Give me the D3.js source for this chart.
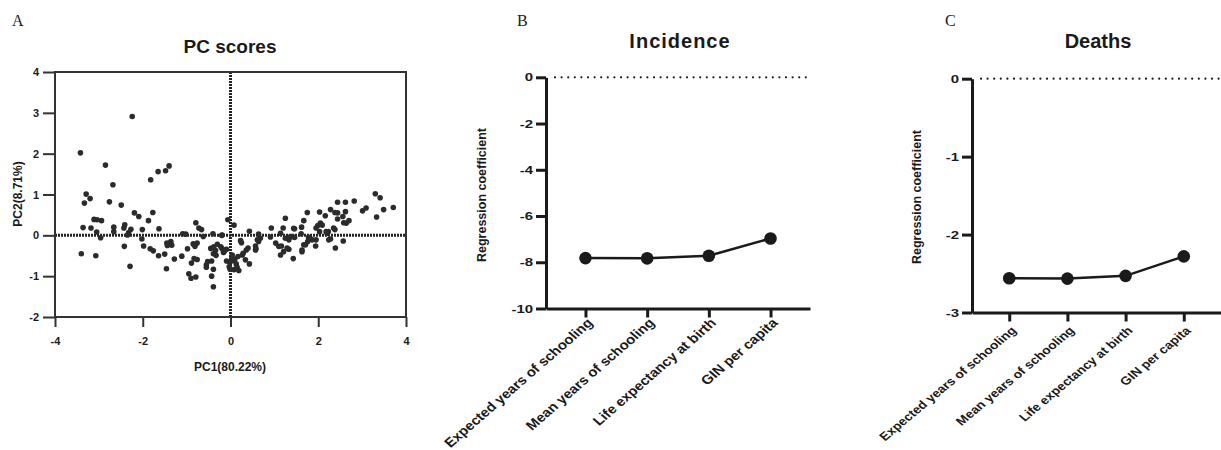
<!DOCTYPE html>
<html>
<head>
<meta charset="utf-8">
<script src="https://cdn.jsdelivr.net/npm/d3@7"></script>
<style>
  body { margin: 0; background: #fff; }
  svg text { font-family: "Liberation Sans", Arial, sans-serif; fill: #1a1a1a; }
  .panel-label { font-family: "Liberation Serif", "DejaVu Serif", serif !important; font-size: 16px; font-weight: normal; }
</style>
</head>
<body>
<svg id="chart" width="1221" height="450"></svg>
<script>
// ----- data -----
// panel A: PC scores, [PC1, PC2]
const pcScores = [
  [-2.24,2.91],[-3.42,2.02],[-2.85,1.72],[-2.68,1.24],[-1.82,1.36],[-1.65,1.56],[-1.48,1.58],[-1.40,1.70],
  [-3.29,1.01],[-3.33,0.79],[-3.20,0.90],[-2.76,0.82],[-2.49,0.74],[-2.19,0.55],[-2.09,0.46],[-1.77,0.56],[-1.87,0.36],
  [-3.11,0.39],[-3.04,0.38],[-2.94,0.36],[-3.36,0.19],[-3.18,0.18],[-3.05,0.08],[-2.96,-0.06],[-2.66,0.20],[-2.66,0.09],
  [-2.41,0.26],[-2.43,0.18],[-2.27,0.15],[-2.32,0.07],[-2.35,0.01],[-2.01,0.14],[-2.02,-0.09],[-1.63,0.16],
  [-3.40,-0.45],[-3.07,-0.50],[-2.42,-0.27],[-1.98,-0.26],[-1.83,-0.33],[-1.76,-0.38],[-1.64,-0.50],[-1.50,-0.46],
  [-1.45,-0.19],[-1.36,-0.15],[-1.44,-0.25],[-1.34,-0.24],[-2.29,-0.76],[-1.46,-0.82],[-1.28,-0.58],
  [-1.11,-0.51],[-0.98,-0.33],[-0.95,-0.94],[-0.90,-1.05],[-0.79,-1.02],[-0.89,-0.68],[-0.83,-0.57],[-0.76,-0.59],
  [-0.85,-0.21],[-0.81,-0.27],[-0.76,-0.19],[-0.79,0.31],[-0.72,0.18],[-0.66,0.14],[-1.09,0.04],[-1.02,0.03],[-0.62,-0.03],
  [-0.55,-0.72],[-0.55,-0.78],[-0.52,-0.64],[-0.43,-0.63],[-0.39,-0.83],[-0.43,-1.00],[-0.39,-1.26],
  [-0.45,-0.32],[-0.38,-0.28],[-0.34,-0.37],[-0.39,-0.45],[-0.33,-0.49],[-0.30,-0.22],[-0.22,-0.28],[-0.19,-0.33],
  [-0.13,-0.37],[-0.16,-0.42],[-0.40,0.04],[-0.20,0.00],[-0.09,-0.63],[-0.03,-0.77],[-0.01,-0.83],[-0.06,0.38],[0.08,0.25],
  [-0.19,0.01],[-0.09,-0.34],[-0.15,-0.40],[0.03,-0.57],[0.17,-0.52],[0.08,-0.84],[-0.02,-0.66],
  [0.10,-0.58],[0.13,-0.70],[0.19,-0.86],[0.15,-0.78],[0.04,-0.48],[0.05,-0.62],
  [0.25,-0.18],[0.23,-0.13],[0.29,-0.44],[0.36,-0.36],[0.40,-0.31],[0.43,-0.70],[0.43,0.10],[0.27,-0.48],[0.34,-0.60],
  [0.57,-0.26],[0.58,-0.33],[0.64,0.03],[0.68,-0.07],[0.64,-0.15],[0.61,-0.11],[0.57,-0.36],
  [0.93,0.18],[0.91,-0.04],[1.03,-0.19],[1.10,-0.27],[1.21,-0.40],[1.33,-0.34],
  [1.16,-0.26],[1.14,-0.48],[1.29,-0.31],[1.14,0.05],[1.25,0.42],[1.25,-0.07],[1.20,0.18],
  [1.44,0.17],[1.35,-0.04],[1.40,-0.03],[1.33,-0.11],[1.62,0.20],[1.61,0.04],[1.67,0.36],[1.75,0.56],[2.03,0.57],[2.16,0.48],
  [1.95,0.18],[1.99,0.24],[2.05,0.30],[2.09,0.25],[2.03,0.09],[1.95,-0.11],[1.82,-0.08],[1.94,-0.26],
  [1.76,-0.15],[1.63,-0.36],[1.67,-0.23],[1.78,-0.05],[1.43,-0.57],[1.71,-0.23],[1.63,-0.40],
  [2.28,0.63],[2.38,0.56],[2.44,0.55],[2.44,0.81],[2.62,0.81],[2.82,0.84],[2.62,0.58],[2.56,0.46],[2.44,0.40],
  [2.58,0.31],[2.64,0.30],[2.70,0.36],[2.35,0.18],[2.38,0.14],[2.23,0.09],[2.28,-0.09],[2.57,-0.14],[2.39,-0.31],
  [3.01,0.60],[3.09,0.67],[3.30,1.02],[3.41,0.92],[3.33,0.45],[3.49,0.63],[3.71,0.68],
  [1.46,0.16],[1.46,-0.05],[2.18,0.09],[2.20,0.05],[1.86,-0.11],[2.24,-0.11]
];
const pcXTicks = [-4, -2, 0, 2, 4];
const pcYTicks = [-2, -1, 0, 1, 2, 3, 4];

// panels B and C: regression coefficients per indicator
const indicators = ["Expected years of schooling", "Mean years of schooling", "Life expectancy at birth", "GIN per capita"];
const incidenceCoef = [-7.82, -7.83, -7.72, -6.97];
const deathsCoef = [-2.56, -2.565, -2.53, -2.28];
const incidenceTicks = [0, -2, -4, -6, -8, -10];
const deathsTicks = [0, -1, -2, -3];

const svg = d3.select('#chart');
const ink = '#1a1a1a';
const plain = d => String(d);   // hyphen minus, like the original

// ----- panel A: PC scores -----
const xA = d3.scaleLinear().domain([-4, 4]).range([55, 406]);
const yA = d3.scaleLinear().domain([-2, 4]).range([317, 72]);
const gA = svg.append('g');

gA.append('text').attr('class', 'panel-label').attr('x', 12).attr('y', 26).text('A');
gA.append('text').attr('x', 230).attr('y', 53).attr('text-anchor', 'middle')
  .style('font-size', '19px').style('font-weight', 'bold').text('PC scores');

const axA = gA.append('g').attr('transform', 'translate(55,0)')
  .call(d3.axisLeft(yA).tickValues(pcYTicks).tickSize(12).tickPadding(4).tickFormat(plain));
const axAx = gA.append('g').attr('transform', 'translate(0,317)')
  .call(d3.axisBottom(xA).tickValues(pcXTicks).tickSize(10).tickPadding(10).tickFormat(plain));
[axA, axAx].forEach(ax => {
  ax.select('.domain').remove();
  ax.selectAll('line').attr('stroke', '#333').attr('stroke-width', 2);
  ax.selectAll('text').style('font-size', '11px').style('font-weight', 'bold').attr('fill', ink);
});

// zero reference lines, dense dotted
gA.append('line').attr('x1', xA(-4)).attr('x2', xA(4)).attr('y1', yA(0)).attr('y2', yA(0))
  .attr('stroke', '#222').attr('stroke-width', 3).attr('stroke-dasharray', '2,1');
gA.append('line').attr('x1', xA(0)).attr('x2', xA(0)).attr('y1', yA(4)).attr('y2', yA(-2))
  .attr('stroke', '#222').attr('stroke-width', 3).attr('stroke-dasharray', '2,1');

gA.append('rect').attr('x', xA(-4)).attr('y', yA(4))
  .attr('width', xA(4) - xA(-4)).attr('height', yA(-2) - yA(4))
  .attr('fill', 'none').attr('stroke', '#333').attr('stroke-width', 2);

gA.selectAll('circle.pt').data(pcScores).join('circle').attr('class', 'pt')
  .attr('cx', d => xA(d[0])).attr('cy', d => yA(d[1])).attr('r', 2.8)
  .attr('fill', '#2b2b2b');

gA.append('text').attr('x', 230).attr('y', 371).attr('text-anchor', 'middle')
  .style('font-size', '12px').style('font-weight', 'bold').text('PC1(80.22%)');
gA.append('text').attr('transform', 'translate(22,194) rotate(-90)').attr('text-anchor', 'middle')
  .style('font-size', '12px').style('font-weight', 'bold').text('PC2(8.71%)');

// ----- panels B and C: coefficient line charts -----
// the original panels are stretched sideways, so their text gets a horizontal scale
function coefPanel(opt) {
  const g = svg.append('g');
  const x = d3.scalePoint().domain(indicators).range([opt.left, opt.right]).padding(0.64);
  const y = d3.scaleLinear().domain(opt.domain).range([opt.bottom, opt.top]);

  g.append('text').attr('class', 'panel-label').attr('x', opt.labelX).attr('y', 26).text(opt.label);
  g.append('text').attr('x', opt.titleX).attr('y', 48).attr('text-anchor', 'middle')
    .style('font-size', '20px').style('font-weight', 'bold').style('letter-spacing', opt.spacing)
    .text(opt.title);

  // dotted zero line
  g.append('line').attr('x1', opt.left + 9).attr('x2', opt.right + 2).attr('y1', y(0)).attr('y2', y(0))
    .attr('stroke', ink).attr('stroke-width', 2.2).attr('stroke-linecap', 'round')
    .attr('stroke-dasharray', '0,6.6');

  const yAxis = g.append('g').attr('transform', `translate(${opt.left},0)`)
    .call(d3.axisLeft(y).tickValues(opt.ticks).tickSize(10).tickSizeOuter(0).tickFormat(plain));
  const xAxis = g.append('g').attr('transform', `translate(0,${opt.bottom})`)
    .call(d3.axisBottom(x).tickSize(9).tickSizeOuter(0));
  [yAxis, xAxis].forEach(ax => {
    ax.select('.domain').attr('stroke', ink).attr('stroke-width', 3);
    ax.selectAll('.tick line').attr('stroke', ink).attr('stroke-width', 3);
  });
  yAxis.selectAll('text')
    .attr('x', 0).attr('transform', `translate(-13,0) scale(1.3,1)`)
    .style('font-size', '11.5px').style('font-weight', 'bold').attr('fill', ink);
  xAxis.selectAll('text')
    .attr('y', 0).attr('dy', '0.35em').attr('text-anchor', 'end')
    .attr('transform', `translate(4,${opt.catDy}) scale(${opt.sx},1) rotate(-45)`)
    .style('font-size', opt.catFont).style('font-weight', 'bold').attr('fill', ink);

  g.append('text').attr('transform', `translate(${opt.yTitleX},${opt.yTitleY}) rotate(-90)`)
    .attr('text-anchor', 'middle').style('font-size', '12.5px').style('font-weight', 'bold')
    .text('Regression coefficient');

  const pts = indicators.map((k, i) => [k, opt.values[i]]);
  g.append('path').datum(pts)
    .attr('d', d3.line().x(d => x(d[0])).y(d => y(d[1])))
    .attr('fill', 'none').attr('stroke', ink).attr('stroke-width', 2.5);
  g.selectAll('circle').data(pts).join('circle')
    .attr('cx', d => x(d[0])).attr('cy', d => y(d[1])).attr('r', 6.3).attr('fill', ink);
}

coefPanel({ label: 'B', labelX: 517, title: 'Incidence', titleX: 680, spacing: '1px',
  left: 546, right: 810, top: 77.3, bottom: 308.5, domain: [-10, 0], ticks: incidenceTicks,
  values: incidenceCoef, yTitleX: 486, yTitleY: 195, catFont: '13px', catDy: 12, sx: 1.15 });
coefPanel({ label: 'C', labelX: 945, title: 'Deaths', titleX: 1098, spacing: '0px',
  left: 972, right: 1221, top: 78.7, bottom: 312.5, domain: [-3, 0], ticks: deathsTicks,
  values: deathsCoef, yTitleX: 921, yTitleY: 197, catFont: '11.5px', catDy: 16, sx: 1.2 });
</script>
</body>
</html>
